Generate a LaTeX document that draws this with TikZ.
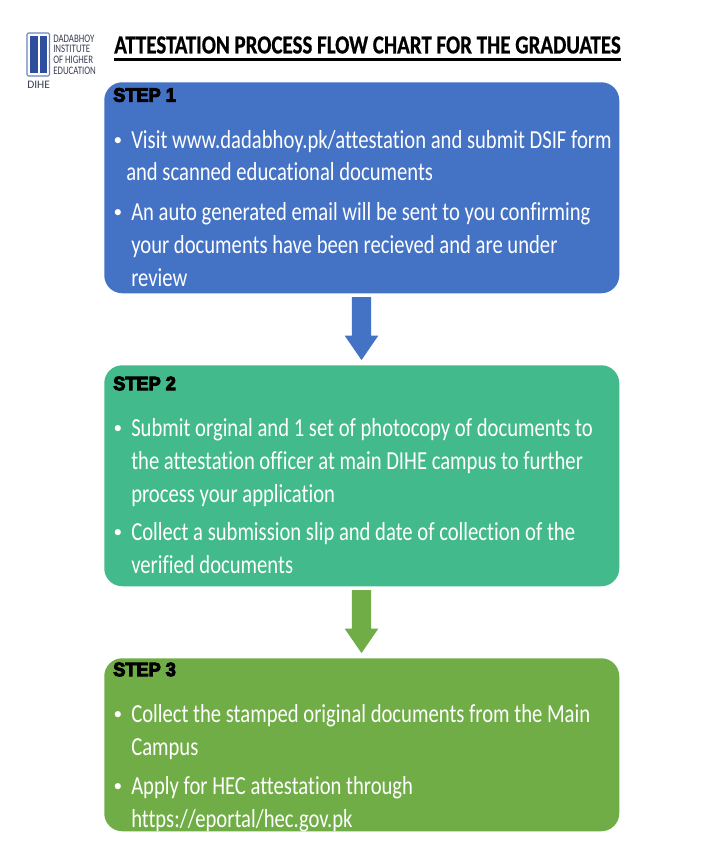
\documentclass[tikz,border=0pt]{standalone}
\usepackage{fontspec}
\setmainfont[Ligatures=NoCommon]{Carlito}
\newfontfamily\bodyfont[Ligatures=NoCommon,FakeStretch=0.794]{Carlito}
\newfontfamily\titlefont[Ligatures=NoCommon,FakeStretch=0.806,FakeBold=0.6]{Carlito Bold}
\newfontfamily\logofont[Ligatures=NoCommon,FakeStretch=0.77]{Carlito}
\newfontfamily\stepfont[FakeBold=5,FakeStretch=0.94]{Liberation Sans Bold}
\usetikzlibrary{shapes.arrows}
\definecolor{boxblue}{HTML}{4472C4}
\definecolor{boxteal}{HTML}{43BA8B}
\definecolor{boxgreen}{HTML}{70AD47}
\definecolor{logoblue}{HTML}{2F4E9E}
\definecolor{logotext}{HTML}{3A3F55}
\tikzset{
  x=0.75pt,y=-0.75pt,
  card/.style={rounded corners=13.5pt,draw=none,minimum width=386.25pt,anchor=north west,inner sep=0pt},
  steplabel/.style={anchor=west,inner sep=0pt,font=\stepfont\fontsize{14.5}{16}\selectfont,text=black},
  bullettext/.style={anchor=north west,inner sep=0pt,text=white,align=left,font=\bodyfont\fontsize{19.5}{25}\selectfont},
  dot/.style={anchor=center,inner sep=0pt,text=white,font=\fontsize{13}{15}\selectfont},
  flowarrow/.style={single arrow,draw=none,rotate=-90,anchor=center,inner ysep=7.1pt,inner xsep=0pt,outer sep=0pt,
    single arrow head extend=5.25pt,single arrow head indent=0pt,single arrow tip angle=69},
  logosmall/.style={anchor=west,inner sep=0pt,text=logotext,font=\logofont\fontsize{8.6}{9}\selectfont},
  logotag/.style={anchor=west,inner sep=0pt,text=logotext,font=\fontsize{8.6}{9}\selectfont}
}
\begin{document}
\begin{tikzpicture}
\useasboundingbox (0,0) rectangle (715,860);
\fill[white] (0,0) rectangle (715,860);
% logo
\draw[logoblue!70!white,line width=0.8pt,rounded corners=1pt] (27,33) rectangle (49.5,76);
\fill[logoblue] (30,36) rectangle (37.5,73);
\fill[logoblue] (39.5,36) rectangle (46.5,73);
\node[logosmall] (l1) at (53,38.5) {DADABHOY};
\node[logosmall] (l2) at (53,49) {INSTITUTE};
\node[logosmall] (l3) at (53,60) {OF HIGHER};
\node[logosmall] (l4) at (53,71) {EDUCATION};
\node[logotag] (l5) at (27,84.5) {DIHE};
% title
\node[anchor=west,inner sep=0pt,font=\titlefont\fontsize{19.5}{22}\selectfont] (title) at (114,45) {ATTESTATION PROCESS FLOW CHART FOR THE GRADUATES};
\draw[line width=2.1pt] (114,59.5) -- (621,59.5);
% cards
\node[card,fill=boxblue,minimum height=158.25pt] (c1) at (104,82) {};
\node[card,fill=boxteal,minimum height=165.75pt] (c2) at (104,365) {};
\node[card,fill=boxgreen,minimum height=129.75pt] (c3) at (104,658) {};
% arrows
\node[flowarrow,fill=boxblue,minimum height=47.25pt] (a1) at (361.5,321.5) {};
\node[flowarrow,fill=boxgreen,minimum height=47.25pt] (a2) at (361.5,614.5) {};
% step 1
\node[steplabel] (s1) at (113,95) {STEP 1};
\node[dot] (d11) at (118,142) {•};
\node[bullettext] (t11) at (131,130) {Visit www.dadabhoy.pk/attestation and submit DSIF form};
\node[bullettext] (t12) at (126,162) {and scanned educational documents};
\node[dot] (d12) at (118,214) {•};
\node[bullettext] (t13) at (131,202) {An auto generated email will be sent to you confirming\\your documents have been recieved and are under\\review};
% step 2
\node[steplabel] (s2) at (113,383.5) {STEP 2};
\node[dot] (d21) at (118,430) {•};
\node[bullettext] (t21) at (131,418) {Submit orginal and 1 set of photocopy of documents to\\the attestation officer at main DIHE campus to further\\process your application};
\node[dot] (d22) at (118,534) {•};
\node[bullettext] (t22) at (131,522) {Collect a submission slip and date of collection of the\\verified documents};
% step 3
\node[steplabel] (s3) at (113,669.5) {STEP 3};
\node[dot] (d31) at (118,716) {•};
\node[bullettext] (t31) at (131,704) {Collect the stamped original documents from the Main\\Campus};
\node[dot] (d32) at (118,788) {•};
\node[bullettext] (t32) at (131,776) {Apply for HEC attestation through\\https://eportal/hec.gov.pk};
\end{tikzpicture}
\end{document}
